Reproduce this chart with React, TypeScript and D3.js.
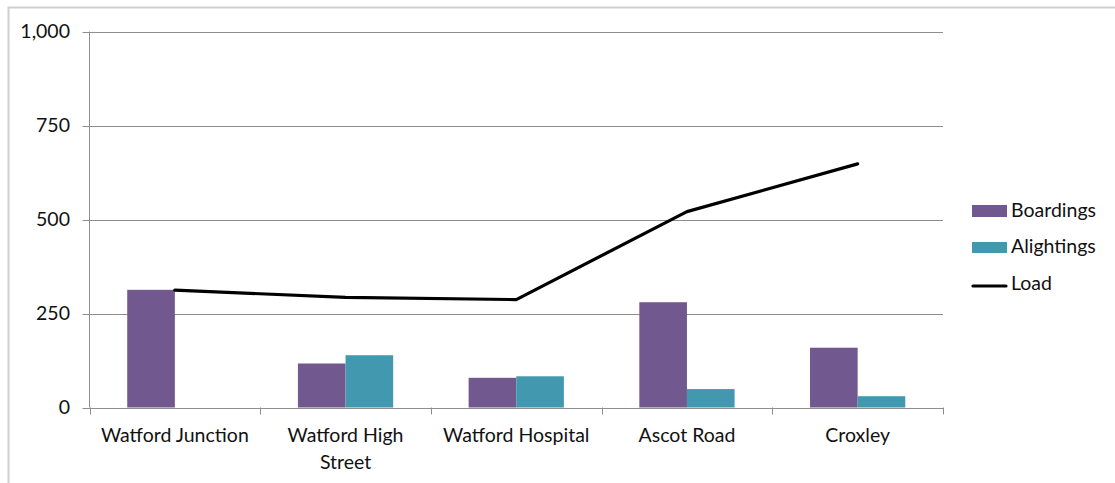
import React from "react";
import * as d3 from "d3";

const categories = ["Watford Junction", "Watford High Street", "Watford Hospital", "Ascot Road", "Croxley"];
const categoryLines = [["Watford Junction"], ["Watford High", "Street"], ["Watford Hospital"], ["Ascot Road"], ["Croxley"]];
const boardings = [313, 117, 79, 280, 159];
const alightings = [0, 139, 83, 49, 30];
const load = [312, 293, 287, 521, 648];
const yTicks = [0, 250, 500, 750, 1000];
const seriesNames = ["Boardings", "Alightings", "Load"];
const colors = { boardings: "#71588F", alightings: "#4198AF", load: "#000000" };

const W = 1115, H = 483;
const plot = { left: 89.5, right: 943, top: 31.5, bottom: 407.5 };
const FONT = "Lato, 'Open Sans', sans-serif";
const FS = 19.5;

export default function App() {
  const x = d3.scaleBand<string>().domain(categories).range([plot.left, plot.right]).paddingInner(0).paddingOuter(0);
  const y = d3.scaleLinear().domain([0, 1000]).range([plot.bottom, plot.top]);
  const bw = x.bandwidth();
  const barW = bw * 0.279;
  const center = (c: string) => (x(c) as number) + bw / 2;
  const line = d3.line<number>().x((_, i) => center(categories[i])).y((d) => y(d));
  const fmt = d3.format(",");
  const boundaries = d3.range(categories.length + 1).map((i) => plot.left + i * bw);

  return (
    <svg width={W} height={H} style={{ position: "absolute", left: 0, top: 0, background: "#fff" }} fontFamily={FONT}>
      <rect x={0} y={0} width={W} height={H} fill="#fff" />
      <rect x={8.5} y={7.5} width={W + 10} height={H + 10} fill="none" stroke="#cfcfcf" strokeWidth={2} />
      {/* gridlines */}
      {yTicks.map((t) => (
        <g key={t}>
          <line x1={plot.left - 7} x2={plot.right} y1={Math.round(y(t)) + 0.5} y2={Math.round(y(t)) + 0.5} stroke="#8e8e8e" strokeWidth={1} />
          <text x={70} y={y(t)} dy="0.35em" textAnchor="end" fontSize={FS} fill="#111">{fmt(t)}</text>
        </g>
      ))}
      {/* y axis */}
      <line x1={plot.left} x2={plot.left} y1={plot.top} y2={plot.bottom} stroke="#8e8e8e" />
      {/* x ticks */}
      {boundaries.map((b, i) => (
        <line key={i} x1={Math.round(b) + 0.5} x2={Math.round(b) + 0.5} y1={plot.bottom} y2={plot.bottom + 7} stroke="#8e8e8e" />
      ))}
      {/* bars */}
      {categories.map((c, i) => (
        <g key={c}>
          <rect x={center(c) - barW} y={y(boardings[i])} width={barW} height={y(0) - y(boardings[i])} fill={colors.boardings} />
          <rect x={center(c)} y={y(alightings[i])} width={barW} height={y(0) - y(alightings[i])} fill={colors.alightings} />
        </g>
      ))}
      {/* load line */}
      <path d={line(load) || ""} fill="none" stroke={colors.load} strokeWidth={3.2} strokeLinejoin="round" strokeLinecap="round" />
      {/* category labels */}
      {categories.map((c, i) => (
        <text key={c} x={center(c)} y={442} textAnchor="middle" fontSize={FS} fill="#111">
          {categoryLines[i].map((l, j) => (
            <tspan key={j} x={center(c)} dy={j === 0 ? 0 : 27}>{l}</tspan>
          ))}
        </text>
      ))}
      {/* legend */}
      <rect x={972} y={205} width={35} height={12} fill={colors.boardings} />
      <text x={1011} y={210} dy="0.35em" fontSize={FS} fill="#111">{seriesNames[0]}</text>
      <rect x={972} y={242} width={35} height={11} fill={colors.alightings} />
      <text x={1011} y={246.5} dy="0.35em" fontSize={FS} fill="#111">{seriesNames[1]}</text>
      <line x1={973} x2={1006} y1={286} y2={286} stroke={colors.load} strokeWidth={3.2} strokeLinecap="round" />
      <text x={1011} y={283} dy="0.35em" fontSize={FS} fill="#111">{seriesNames[2]}</text>
    </svg>
  );
}
